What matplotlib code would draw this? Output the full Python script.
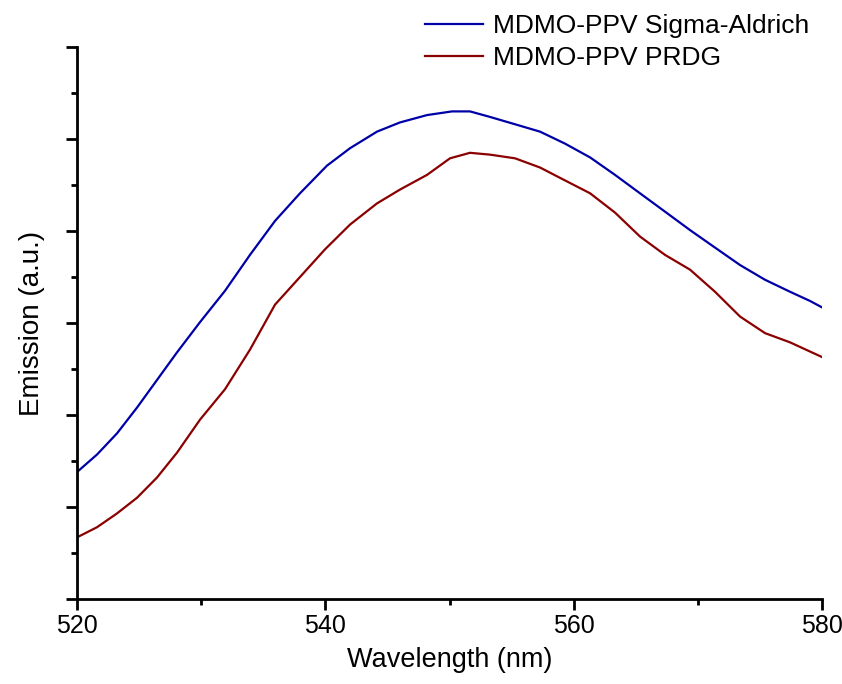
import matplotlib
matplotlib.use("Agg")
import matplotlib.pyplot as plt
from matplotlib.ticker import MultipleLocator, NullFormatter

plt.rcParams['font.family'] = ['Liberation Sans', 'DejaVu Sans']

# wavelength (nm) and emission (a.u.)
wl_sigma = [520.00, 521.61, 523.22, 524.83, 526.44, 528.05, 529.91, 531.92, 533.93, 535.95,
            537.96, 540.13, 541.99, 544.16, 546.01, 548.19, 550.20, 551.65, 553.26, 555.28,
            557.29, 559.30, 561.32, 563.33, 565.34, 567.36, 569.37, 571.38, 573.40, 575.41,
            577.42, 579.03, 580.00]
em_sigma = [1.38, 1.57, 1.80, 2.08, 2.38, 2.68, 3.01, 3.35, 3.74, 4.11,
            4.41, 4.71, 4.90, 5.08, 5.18, 5.26, 5.30, 5.30, 5.24, 5.16,
            5.08, 4.95, 4.80, 4.61, 4.41, 4.21, 4.01, 3.82, 3.63, 3.47,
            3.34, 3.24, 3.17]

wl_prdg = [520.00, 521.61, 523.22, 524.83, 526.44, 528.05, 529.91, 531.92, 533.93, 535.95,
           537.96, 539.97, 541.99, 544.16, 546.01, 548.19, 550.04, 551.65, 553.26, 555.28,
           557.29, 559.30, 561.32, 563.33, 565.34, 567.36, 569.37, 571.38, 573.40, 575.41,
           577.42, 580.00]
em_prdg = [0.67, 0.78, 0.93, 1.10, 1.32, 1.59, 1.95, 2.28, 2.71, 3.20,
           3.50, 3.80, 4.07, 4.30, 4.45, 4.61, 4.79, 4.85, 4.83, 4.79,
           4.69, 4.55, 4.41, 4.20, 3.94, 3.74, 3.58, 3.34, 3.07, 2.89,
           2.79, 2.63]

fig = plt.figure(figsize=(8.42, 6.84), dpi=100)
ax = fig.add_axes([77/842, 1 - 599/684, 745/842, 552/684])

ax.plot(wl_sigma, em_sigma, color='#0000a8', lw=1.6, label='MDMO-PPV Sigma-Aldrich')
ax.plot(wl_prdg, em_prdg, color='#8b0000', lw=1.6, label='MDMO-PPV PRDG')

ax.set_xlim(520, 580)
ax.set_ylim(0, 6)
ax.xaxis.set_major_locator(MultipleLocator(20))
ax.xaxis.set_minor_locator(MultipleLocator(10))
ax.yaxis.set_major_locator(MultipleLocator(1))
ax.yaxis.set_minor_locator(MultipleLocator(0.5))
ax.yaxis.set_major_formatter(NullFormatter())

for side in ['top', 'right']:
    ax.spines[side].set_visible(False)
for side in ['left', 'bottom']:
    ax.spines[side].set_linewidth(2)

ax.tick_params(which='major', length=8, width=2, direction='out', labelsize=18, pad=3)
ax.tick_params(which='minor', length=4.5, width=2, direction='out')

ax.set_xlabel('Wavelength (nm)', fontsize=19.5, labelpad=6)
ax.set_ylabel('Emission (a.u.)', fontsize=20, labelpad=12)

ax.legend(loc='upper left', bbox_to_anchor=(425/842, 1 - 14/684), bbox_transform=fig.transFigure,
          frameon=False, fontsize=19, handlelength=2.2, handletextpad=0.38, labelspacing=0.31,
          borderpad=0, borderaxespad=0)

fig.savefig('out.png', dpi=100)
